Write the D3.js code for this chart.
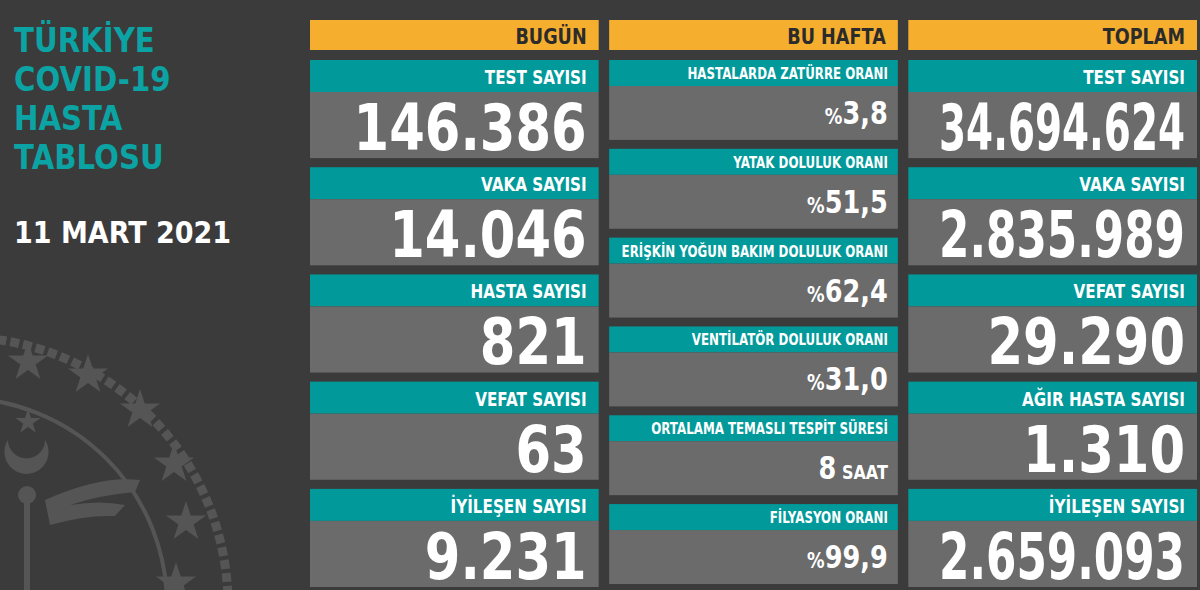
<!DOCTYPE html>
<html><head><meta charset="utf-8">
<script src="https://cdn.jsdelivr.net/npm/d3@7"></script>
<style>body{margin:0;background:#3b3b3b;overflow:hidden}</style>
</head><body>
<svg id="chart" width="1200" height="590"></svg>
<script>
const headers = ["BUGÜN", "BU HAFTA", "TOPLAM"];
const todayLabels = ["TEST SAYISI", "VAKA SAYISI", "HASTA SAYISI", "VEFAT SAYISI", "İYİLEŞEN SAYISI"];
const todayValues = ["146.386", "14.046", "821", "63", "9.231"];
const weekLabels = ["HASTALARDA ZATÜRRE ORANI", "YATAK DOLULUK ORANI", "ERİŞKİN YOĞUN BAKIM DOLULUK ORANI",
  "VENTİLATÖR DOLULUK ORANI", "ORTALAMA TEMASLI TESPİT SÜRESİ", "FİLYASYON ORANI"];
const weekValues = [["%", "3,8"], ["%", "51,5"], ["%", "62,4"], ["%", "31,0"], ["8", " SAAT"], ["%", "99,9"]];
const totalLabels = ["TEST SAYISI", "VAKA SAYISI", "VEFAT SAYISI", "AĞIR HASTA SAYISI", "İYİLEŞEN SAYISI"];
const totalValues = ["34.694.624", "2.835.989", "29.290", "1.310", "2.659.093"];
const titleLines = ["TÜRKİYE", "COVID-19", "HASTA", "TABLOSU"];
const dateText = "11 MART 2021";

const svg = d3.select("#chart");
const font = "'DejaVu Sans',sans-serif";
const teal = "#01999a", gray = "#6b6b6b", yellow = "#f6ae2f";

// condensed-looking text: scale horizontally, and shrink more if wider than maxW
function addText(g, x, y, str, size, fill, sx, maxW, anchor) {
  const t = g.append("text").attr("x", 0).attr("y", 0)
    .attr("text-anchor", anchor || "end").attr("font-family", font)
    .attr("font-weight", "bold").attr("font-size", size).attr("fill", fill);
  if (Array.isArray(str)) {
    str.forEach(p => t.append("tspan").attr("font-size", p[1]).text(p[0]));
  } else t.text(str);
  const len = t.node().getComputedTextLength();
  let s = sx;
  if (maxW && len * s > maxW) s = maxW / len;
  t.attr("transform", `translate(${x},${y}) scale(${s},1)`);
  return t;
}

// emblem in the background
const emb = svg.append("g").attr("fill", "#555").attr("stroke", "#555");
emb.append("circle").attr("cx", -40).attr("cy", 605).attr("r", 268)
  .attr("fill", "none").attr("stroke-width", 9).attr("stroke-dasharray", "9 4");
emb.append("circle").attr("cx", -40).attr("cy", 605).attr("r", 207)
  .attr("fill", "none").attr("stroke-width", 4);
const starPath = d3.symbol().type(d3.symbolStar).size(500)();
[[28, 362], [88, 375], [140, 410], [174, 464], [186, 522], [176, 583]].forEach(p =>
  emb.append("path").attr("d", starPath).attr("transform", `translate(${p[0]},${p[1]})`).attr("stroke", "none"));
emb.append("path").attr("d", d3.symbol().type(d3.symbolStar).size(200)()).attr("transform", "translate(28,422)").attr("stroke", "none");
emb.append("path").attr("d", "M8,440 A22,22 0 1 0 45,440 A18,18 0 1 1 8,440Z").attr("stroke", "none");
emb.append("rect").attr("x", 24).attr("y", 495).attr("width", 6).attr("height", 100).attr("stroke", "none");
emb.append("circle").attr("cx", 27).attr("cy", 495).attr("r", 9).attr("stroke", "none");
emb.append("path").attr("d", "M45,500 Q100,475 140,480 L135,492 Q100,495 70,505 Q100,500 125,505 L115,516 Q85,515 50,525Z").attr("stroke", "none");

// title
titleLines.forEach((d, i) => addText(svg, 14, 52 + i * 39, d, 34, "#0ba3a3", 0.86, null, "start"));
addText(svg, 14, 243, dateText, 30, "#fff", 0.9, null, "start");

const x = d3.scaleBand().domain(d3.range(3)).range([310, 1197]).paddingInner(0.035);

headers.forEach((h, i) => {
  svg.append("rect").attr("x", x(i)).attr("y", 20).attr("width", x.bandwidth()).attr("height", 30).attr("fill", yellow);
  addText(svg, x(i) + x.bandwidth() - 12, 44, h, 21, "#2b2b2b", 0.84);
});

function bigColumn(col, labels, values) {
  const y = d3.scaleBand().domain(d3.range(labels.length)).range([60, 587]).paddingInner(0.085);
  labels.forEach((d, i) => {
    const g = svg.append("g").attr("transform", `translate(${x(col)},${y(i)})`);
    g.append("rect").attr("width", x.bandwidth()).attr("height", 32).attr("fill", teal);
    g.append("rect").attr("y", 32).attr("width", x.bandwidth()).attr("height", y.bandwidth() - 32).attr("fill", gray);
    addText(g, x.bandwidth() - 12, 24, d, 20, "#fff", 0.76);
    addText(g, x.bandwidth() - 12, 90, values[i], 64, "#fff", 0.8, 246);
  });
}
bigColumn(0, todayLabels, todayValues);
bigColumn(2, totalLabels, totalValues);

const y2 = d3.scaleBand().domain(d3.range(weekLabels.length)).range([60, 584]).paddingInner(0.1);
weekLabels.forEach((d, i) => {
  const g = svg.append("g").attr("transform", `translate(${x(1)},${y2(i)})`);
  g.append("rect").attr("width", x.bandwidth()).attr("height", 26).attr("fill", teal);
  g.append("rect").attr("y", 26).attr("width", x.bandwidth()).attr("height", y2.bandwidth() - 26).attr("fill", gray);
  addText(g, x.bandwidth() - 10, 19, d, 15, "#fff", 0.79);
  const v = weekValues[i];
  const parts = v[0] === "%" ? [[v[0], 22], [v[1], 32]] : [[v[0], 32], [v[1], 20]];
  addText(g, x.bandwidth() - 10, 64, parts, 32, "#fff", 0.8);
});
</script>
</body></html>
